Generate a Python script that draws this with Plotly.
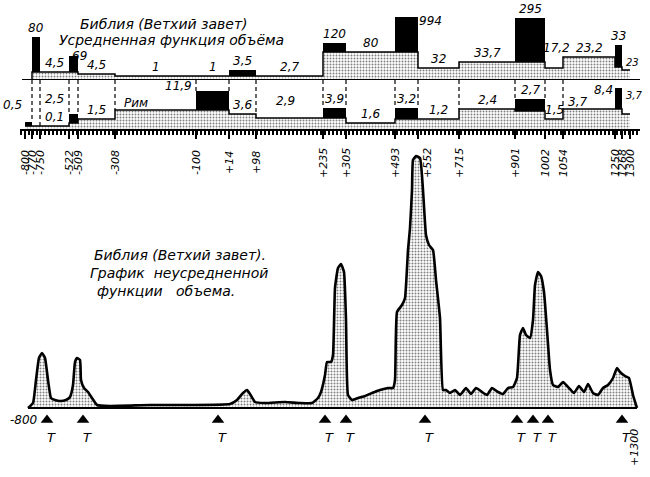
import plotly.graph_objects as go

# ---------------- data ----------------
tick_labels = ["-800", "-770", "-750", "-522", "-509", "-308", "-100", "+14", "+98",
               "+235", "+305", "+493", "+552", "+715", "+901", "1002", "1054",
               "1250", "1268", "1300"]
# position of each boundary along the (non-uniform) text scale
bound_pos = [0, 7, 15, 44, 53, 90, 171, 204, 231, 298, 321, 370, 393, 434,
             490, 520, 538, 590, 597, 605]

# Bible (Old Testament), averaged volume function: drawn level and peak per interval
bible_level = [0, 8, 8, 8, 6, 4, 4, 4, 4, 28, 28, 28, 12, 18, 18, 12, 23, 13, 10]
bible_peak = [None, 43, None, 24, None, None, None, 10, None, 37, None, 63,
              None, None, 62, None, None, 35, None]
bible_text = ["", "80", "4,5", "69", "4,5", "1", "1", "3,5", "2,7", "120", "80",
              "994", "32", "33,7", "295", "17,2", "23,2", "33", "23"]

# Rome, averaged volume function
rome_level = [3, 3, 3, 6, 10, 19, 19, 15, 11, 11, 6, 10, 10, 20, 18, 10, 20, 20, 15]
rome_peak = [7, None, None, 15, None, None, 38, None, None, 21, None, 21,
             None, None, 30, None, None, 41, None]
rome_text = ["0,5", "", "0,1", "", "1,5", "Рим", "11,9", "3,6", "2,9", "3,9",
             "1,6", "3,2", "1,2", "2,4", "2,7", "1,5", "3,7", "8,4", "3,7"]

# Bible, non-averaged volume function (bottom graph)
vol_pos = [0, 5, 8, 11, 14, 17, 20, 23, 27, 32, 38, 42, 45, 47, 49, 52, 53, 56, 60,
           64, 69, 82, 122, 162, 202, 209, 215, 219, 222, 227, 237, 257, 272, 284,
           290, 293, 297, 299, 303, 305, 307, 310, 313, 316, 318, 320, 324, 330,
           337, 344, 352, 360, 365, 367, 369, 374, 377, 380, 382, 384, 385, 388,
           392, 395, 398, 401, 405, 408, 412, 415, 418, 422, 427, 432, 438, 443,
           448, 454, 459, 464, 470, 475, 480, 485, 489, 492, 495, 498, 502, 505,
           507, 510, 513, 516, 519, 522, 525, 530, 535, 540, 546, 551, 556, 560,
           565, 570, 575, 580, 585, 589, 592, 597, 601, 605, 609]
vol_val = [0, 5, 28, 50, 55, 50, 28, 10, 8, 7, 8, 11, 23, 46, 50, 48, 28, 20, 16,
           10, 3, 2, 3, 3, 4, 8, 15, 18, 14, 6, 5, 6, 5, 5,
           10, 16, 33, 46, 46, 53, 120, 140, 144, 136, 88, 13, 8, 10,
           12, 15, 18, 20, 20, 28, 96, 103, 110, 158, 180, 218, 248, 252,
           250, 218, 173, 163, 158, 128, 90, 18, 18, 15, 18, 13, 20, 14,
           20, 16, 13, 20, 16, 14, 20, 21, 30, 73, 80, 73, 70, 88,
           123, 136, 132, 116, 78, 38, 23, 21, 26, 21, 15, 22, 16, 24,
           15, 13, 20, 23, 30, 40, 36, 32, 30, 13, 0]
t_pos = [19, 55, 190, 297, 318, 397, 489, 505, 520, 594]
t_text = ["T"] * len(t_pos)

# ---------------- figure ----------------
FONT = "DejaVu Sans"
W, H = 650, 477
n = len(bible_level)
centers = [(bound_pos[i] + bound_pos[i + 1]) / 2 for i in range(n)]
widths = [bound_pos[i + 1] - bound_pos[i] for i in range(n)]


def tops(level, peak):
    return [p if p is not None else l for l, p in zip(level, peak)]


bible_top = tops(bible_level, bible_peak)
rome_top = tops(rome_level, rome_peak)
ROME_MAX = 49

dots = dict(shape=".", fgcolor="black", bgcolor="white", size=3.0, solidity=0.32)
dots_bottom = dict(shape=".", fgcolor="black", bgcolor="white", size=3.0, solidity=0.34)

fig = go.Figure()

# dashed separators in the Rome band
dx, dy = [], []
for i in range(1, 17):
    dx += [bound_pos[i], bound_pos[i], None]
    dy += [ROME_MAX, max(rome_top[i - 1], rome_top[i]), None]
fig.add_trace(go.Scatter(x=dx, y=dy, xaxis="x", yaxis="y2", mode="lines",
                         line=dict(color="black", width=1.2, dash="4px,3px"),
                         hoverinfo="skip"))

# stepped, stippled averaged levels
for lev, ax in [(bible_level, "y"), (rome_level, "y2")]:
    fig.add_trace(go.Scatter(x=bound_pos, y=lev + [lev[-1]], xaxis="x", yaxis=ax,
                             mode="lines", line_shape="hv",
                             line=dict(color="black", width=1.5),
                             fill="tozeroy", fillcolor="white", fillpattern=dots,
                             hoverinfo="skip"))

# black peaks
for lev, pk, ax in [(bible_level, bible_peak, "y"), (rome_level, rome_peak, "y2")]:
    idx = [i for i in range(n) if pk[i] is not None]
    fig.add_trace(go.Bar(x=[centers[i] for i in idx],
                         y=[pk[i] - lev[i] for i in idx],
                         base=[lev[i] for i in idx],
                         width=[widths[i] for i in idx],
                         xaxis="x", yaxis=ax,
                         marker=dict(color="black", line=dict(width=0)),
                         hoverinfo="skip"))

# axis line between the two bands
fig.add_trace(go.Scatter(x=[-3, 615], y=[0, 0], xaxis="x", yaxis="y", mode="lines",
                         line=dict(color="black", width=2), hoverinfo="skip"))

# bottom graph
fig.add_trace(go.Scatter(x=vol_pos, y=vol_val, xaxis="x3", yaxis="y3", mode="lines",
                         line=dict(color="black", width=2.6, shape="spline", smoothing=0.4),
                         fill="tozeroy", fillcolor="white", fillpattern=dots_bottom,
                         hoverinfo="skip"))
fig.add_trace(go.Scatter(x=[0, vol_pos[-1]], y=[0, 0], xaxis="x3", yaxis="y3",
                         mode="lines", line=dict(color="black", width=2),
                         hoverinfo="skip"))
fig.add_trace(go.Scatter(x=t_pos, y=[-12] * len(t_pos), xaxis="x3", yaxis="y3",
                         mode="markers",
                         marker=dict(symbol="triangle-up", size=11, color="black"),
                         hoverinfo="skip"))

ann = []


def px_ann(text, px, py, size=12, xanchor="center", angle=0):
    ann.append(dict(text=text, x=px / W, y=1 - py / H, xref="paper", yref="paper",
                    showarrow=False, xanchor=xanchor, yanchor="middle",
                    textangle=angle,
                    font=dict(family=FONT, size=size, color="black", style="italic")))


# titles
px_ann("Библия (Ветхий завет)", 164, 24, 14)
px_ann("Усредненная функция объёма", 171, 40, 14)
px_ann("Библия (Ветхий завет).", 92, 255, 14, "left")
px_ann("График  неусредненной", 88, 273, 14, "left")
px_ann("функции   объема.", 95, 291, 14, "left")

# value labels (pixel shifts, positive = up, for labels drawn beside their bars)
bible_shift = {3: (6, -9), 11: (24, -13), 15: (2, 11), 18: (6, 0)}
rome_shift = {0: (-16, 8), 5: (-20, -2), 6: (-34, -4), 8: (-4, 8),
              16: (-12, -2), 17: (-15, -11), 18: (8, 11)}
for txt, top, sh, ax in [(bible_text, bible_top, bible_shift, "y"),
                         (rome_text, rome_top, rome_shift, "y2")]:
    for i in range(n):
        if not txt[i]:
            continue
        xs, ys = sh.get(i, (0, 0))
        size = 10 if i == n - 1 else 12
        ann.append(dict(text=txt[i], x=centers[i], y=top[i], xref="x", yref=ax,
                        showarrow=False, yanchor="bottom", xshift=xs, yshift=ys,
                        font=dict(family=FONT, size=size, color="black", style="italic")))
# extra Rome label in the -750 … -522 interval
ann.append(dict(text="2,5", x=centers[2], y=30, xref="x", yref="y2", showarrow=False,
                font=dict(family=FONT, size=12, color="black", style="italic")))

# rotated tick labels (the +552 label sits right of the tall peak)
for p, t in zip(bound_pos, tick_labels):
    ann.append(dict(text=t, x=p, y=1 - 163 / H, xref="x", yref="paper",
                    showarrow=False, textangle=-90, yanchor="middle",
                    xshift=9 if t == "+552" else 0,
                    font=dict(family=FONT, size=11, color="black", style="italic")))

# T labels under the triangles
for p, t in zip(t_pos, t_text):
    ann.append(dict(text=t, x=p, y=-29, xref="x3", yref="y3", showarrow=False,
                    xshift=4,
                    font=dict(family=FONT, size=13, color="black", style="italic")))

# bottom axis end labels
ann.append(dict(text=tick_labels[0], x=8 / W, y=-12, xref="paper", yref="y3",
                showarrow=False, xanchor="left",
                font=dict(family=FONT, size=12, color="black", style="italic")))
ann.append(dict(text="+" + tick_labels[-1], x=vol_pos[-1], y=-40, xref="x3", yref="y3",
                showarrow=False, textangle=-90, xshift=-3,
                font=dict(family=FONT, size=11, color="black", style="italic")))

fig.update_layout(
    width=W, height=H, margin=dict(l=0, r=0, t=0, b=0),
    paper_bgcolor="white", plot_bgcolor="white",
    showlegend=False, barmode="overlay", annotations=ann,
    xaxis=dict(domain=[20 / W, 640 / W], range=[-5, 615], anchor="y2",
               showline=True, linecolor="black", linewidth=2,
               ticks="outside", ticklen=8, tickwidth=1.5, tickcolor="black",
               tickvals=bound_pos, showticklabels=False, showgrid=False,
               zeroline=False,
               minor=dict(ticks="outside", ticklen=4, tickcolor="black", dtick=4,
                          tick0=0, showgrid=False)),
    yaxis=dict(domain=[1 - 80 / H, 1], range=[0, 80], visible=False),
    yaxis2=dict(domain=[1 - 129 / H, 1 - 80 / H], range=[0, ROME_MAX], visible=False),
    xaxis3=dict(domain=[0, 1], range=[-28, 622], anchor="y3", visible=False),
    yaxis3=dict(domain=[1 - 448 / H, 1 - 148 / H], range=[-40, 260], visible=False),
)

fig.write_html("out.html", config={"displayModeBar": False},
               post_script="document.body.style.margin='0';document.body.style.padding='0';")
